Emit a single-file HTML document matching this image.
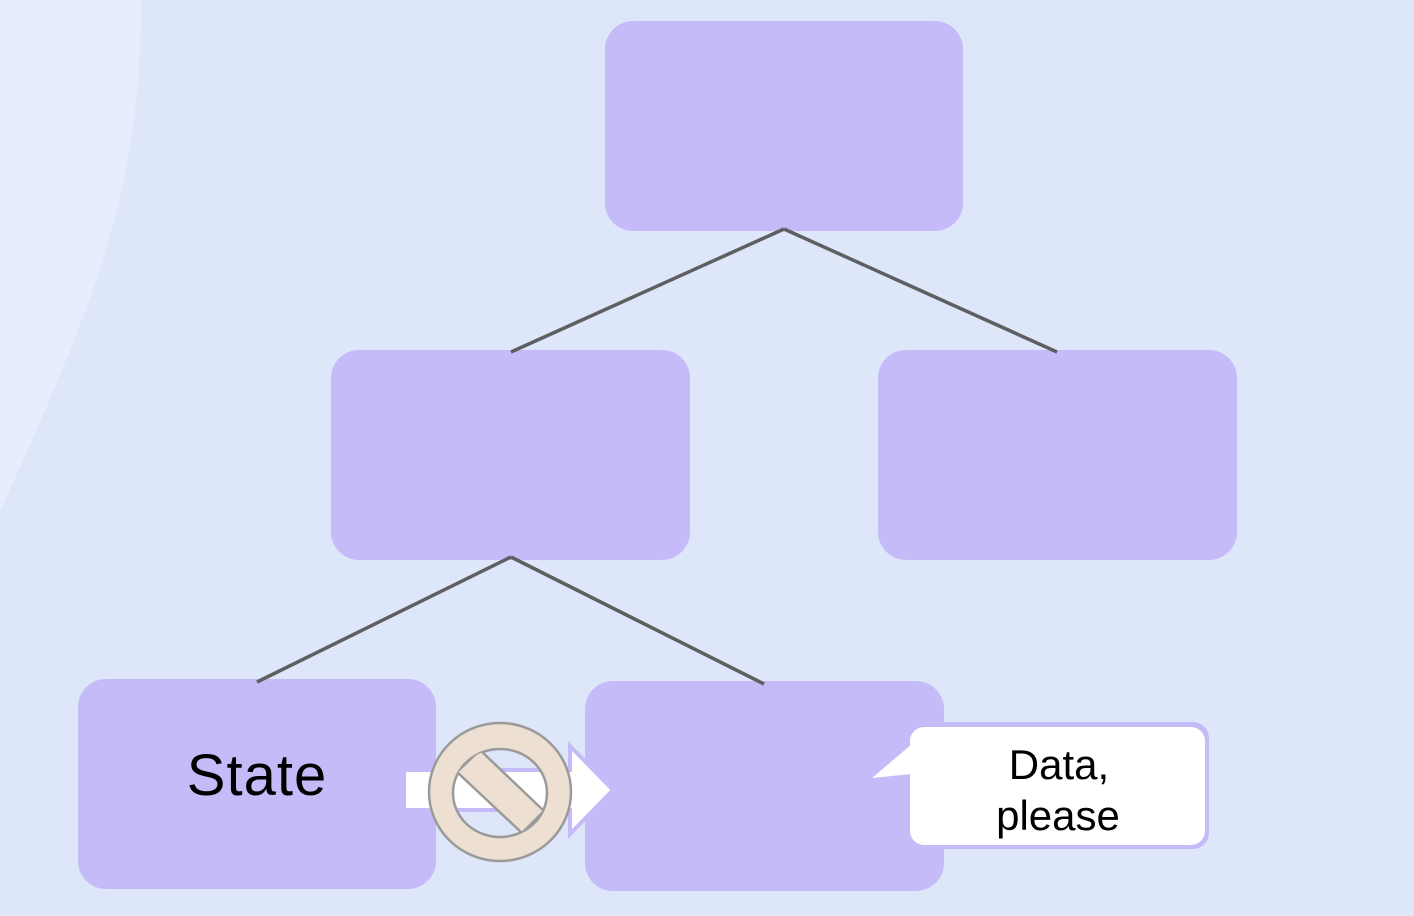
<!DOCTYPE html>
<html><head><meta charset="utf-8"><style>
html,body{margin:0;padding:0;width:1414px;height:916px;overflow:hidden;background:#dee6fa}
svg{display:block}
</style></head><body>
<svg width="1414" height="916" viewBox="0 0 1414 916" xmlns="http://www.w3.org/2000/svg">
<rect width="1414" height="916" fill="#dee6fa"/>
<path d="M0,0 L141,0 C141,200 90,310 0,512 Z" fill="#e7edfc"/>
<g fill="#c5bbf8">
<rect x="605" y="21" width="358" height="210" rx="28"/>
<rect x="331" y="350" width="359" height="210" rx="28"/>
<rect x="878" y="350" width="359" height="210" rx="28"/>
<rect x="78" y="679" width="358" height="210" rx="28"/>
<rect x="585" y="681" width="359" height="210" rx="28"/>
</g>
<g stroke="#5f5f63" stroke-width="3.5" fill="none">
<line x1="784" y1="229" x2="511" y2="352"/>
<line x1="784" y1="229" x2="1057" y2="352"/>
<line x1="511" y1="557" x2="257" y2="682"/>
<line x1="511" y1="557" x2="764" y2="684"/>
</g>
<text x="257" y="795" font-family="Liberation Sans, sans-serif" font-size="58" letter-spacing="1" text-anchor="middle" fill="#000">State</text>
<!-- arrow -->
<path d="M408,770 L570,770 L570,746 L613,790 L570,834 L570,810 L408,810 Z" fill="#fff" stroke="#c5bbf8" stroke-width="4" stroke-linejoin="miter"/>
<rect x="406" y="772" width="30" height="36" fill="#fff"/>
<!-- no symbol -->
<defs><clipPath id="hole"><ellipse cx="500" cy="793" rx="47" ry="44"/></clipPath></defs>
<path d="M429,792 a71,69 0 1,0 142,0 a71,69 0 1,0 -142,0 Z M453,793 a47,44 0 1,0 94,0 a47,44 0 1,0 -94,0 Z" fill="#eddfd2" fill-rule="evenodd" stroke="#9a9a9a" stroke-width="2.5"/>
<polygon points="480,750 544,811 522,833 457,772" fill="#eddfd2" stroke="#9a9a9a" stroke-width="2.5" clip-path="url(#hole)"/>
<!-- callout -->
<rect x="909" y="722" width="300" height="127" rx="16" fill="#c5bbf8"/>
<rect x="910" y="727" width="295" height="118" rx="14" fill="#fff"/>
<polygon points="872,778 912,744 912,774" fill="#fff"/>
<g font-family="Liberation Sans, sans-serif" font-size="42" text-anchor="middle" fill="#000">
<text x="1059" y="779">Data,</text>
<text x="1058" y="830">please</text>
</g>
</svg>
</body></html>
